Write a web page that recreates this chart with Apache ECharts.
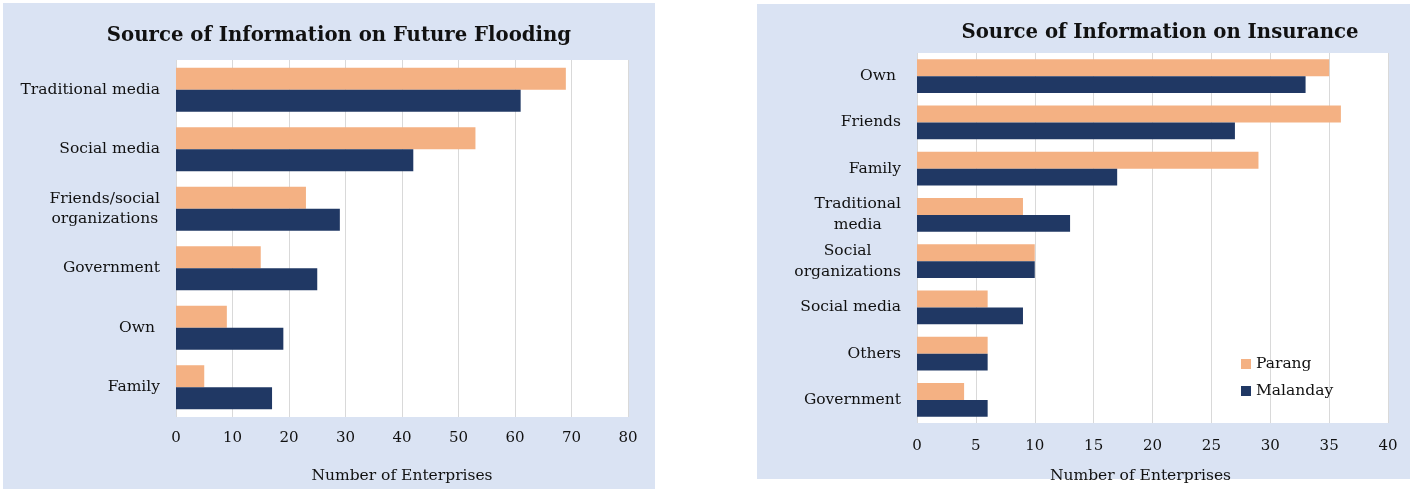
<!DOCTYPE html>
<html>
<head>
<meta charset="utf-8">
<script src="https://cdn.jsdelivr.net/npm/echarts@6/dist/echarts.min.js"></script>
<style>
  html, body { margin: 0; padding: 0; background: #ffffff; }
  #chart { width: 1413px; height: 489px; }
</style>
</head>
<body>
<div id="chart"></div>
<script>
// Survey counts: number of enterprises per information source
const floodCategories = ['Traditional media', 'Social media', 'Friends/social\norganizations', 'Government', 'Own ', 'Family'];
const floodParang = [69, 53, 23, 15, 9, 5];
const floodMalanday = [61, 42, 29, 25, 19, 17];

const insuranceCategories = ['Own ', 'Friends', 'Family', 'Traditional\nmedia', 'Social\norganizations', 'Social media', 'Others', 'Government'];
const insuranceParang = [35, 36, 29, 9, 10, 6, 6, 4];
const insuranceMalanday = [33, 27, 17, 13, 10, 9, 6, 6];

const seriesNames = ['Parang', 'Malanday'];
const titles = ['Source of Information on Future Flooding', 'Source of Information on Insurance'];
const axisTitle = 'Number of Enterprises';

const FONT = 'DejaVu Serif';
const INK = '#111111';
const PANEL = '#dae3f3';
const ORANGE = '#f4b183';
const NAVY = '#203864';

const chart = echarts.init(document.getElementById('chart'), null, { renderer: 'canvas' });

// Multi-line category names are centred line by line, the block right-aligned to the axis
function catLabel(v) {
  const lines = v.split('\n');
  if (lines.length === 1) return v;
  return lines.map(l => '{c|' + l + '}').join('\n');
}

function catAxis(gridIndex, data, fontSize, lineHeight) {
  return {
    type: 'category', gridIndex, data, inverse: true,
    axisLine: { show: false }, axisTick: { show: false },
    axisLabel: {
      fontFamily: FONT, fontSize, color: INK, margin: 16, lineHeight,
      formatter: catLabel,
      rich: { c: { align: 'center', fontFamily: FONT, fontSize, color: INK, lineHeight } }
    }
  };
}

function valAxis(gridIndex, max, interval, margin, nameGap, namePad) {
  return {
    type: 'value', gridIndex, min: 0, max, interval,
    name: axisTitle, nameLocation: 'middle', nameGap,
    nameTextStyle: { fontFamily: FONT, fontSize: 15.5, color: INK, padding: namePad },
    axisLine: { show: false }, axisTick: { show: false },
    axisLabel: { fontFamily: FONT, fontSize: 15, color: INK, margin },
    splitLine: { show: true, lineStyle: { color: '#d9d9d9', width: 1 } }
  };
}

function bars(name, color, axisIdx, data, gap) {
  return {
    name, type: 'bar', xAxisIndex: axisIdx, yAxisIndex: axisIdx, data,
    barGap: '0%', barCategoryGap: gap,
    itemStyle: { color },
    emphasis: { disabled: true }
  };
}

chart.setOption({
  animation: false,
  graphic: [
    { type: 'rect', z: -10, shape: { x: 3, y: 3, width: 652, height: 486 }, style: { fill: PANEL } },
    { type: 'rect', z: -10, shape: { x: 757, y: 4, width: 653, height: 475 }, style: { fill: PANEL } }
  ],
  title: [
    { text: titles[0], left: 334, top: 21, textAlign: 'center',
      textStyle: { fontFamily: FONT, fontWeight: 'bold', fontSize: 19.7, color: INK } },
    { text: titles[1], left: 1155, top: 18, textAlign: 'center',
      textStyle: { fontFamily: FONT, fontWeight: 'bold', fontSize: 19.7, color: INK } }
  ],
  legend: {
    data: seriesNames, orient: 'vertical', left: 1236, top: 351,
    icon: 'rect', itemWidth: 10, itemHeight: 10, itemGap: 11,
    textStyle: { fontFamily: FONT, fontSize: 15.5, color: INK }
  },
  grid: [
    { left: 176, top: 60, width: 452, height: 358, show: true, backgroundColor: '#ffffff', borderWidth: 0 },
    { left: 917, top: 53, width: 471, height: 370, show: true, backgroundColor: '#ffffff', borderWidth: 0 }
  ],
  xAxis: [
    valAxis(0, 80, 10, 14, 51, [0, 0, 0, 0]),
    valAxis(1, 40, 5, 16, 45, [0, 24, 0, 0])
  ],
  yAxis: [
    catAxis(0, floodCategories, 15.5, 20),
    catAxis(1, insuranceCategories, 15.5, 21)
  ],
  series: [
    bars(seriesNames[0], ORANGE, 0, floodParang, '26%'),
    bars(seriesNames[1], NAVY, 0, floodMalanday, '26%'),
    bars(seriesNames[0], ORANGE, 1, insuranceParang, '27%'),
    bars(seriesNames[1], NAVY, 1, insuranceMalanday, '27%')
  ]
});
</script>
</body>
</html>
